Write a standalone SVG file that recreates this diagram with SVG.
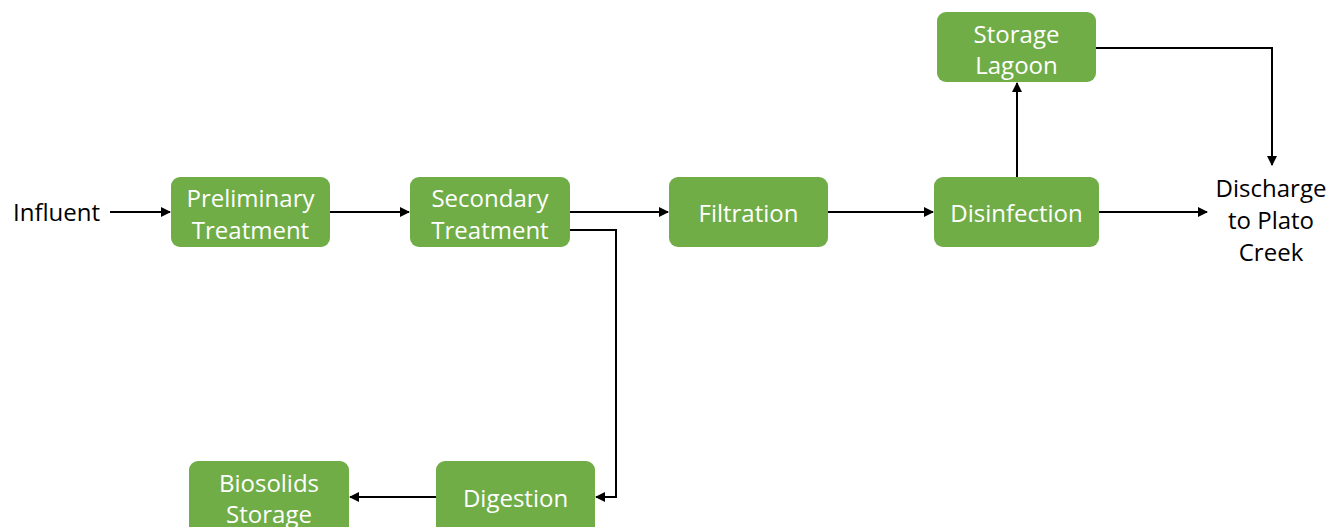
<svg xmlns="http://www.w3.org/2000/svg" width="1332" height="527" viewBox="0 0 1332 527">
<style>
.box{fill:#70AD47;}
.bt{font-family:"Open Sans","Noto Sans",sans-serif;font-size:24px;fill:#ffffff;text-anchor:middle;dominant-baseline:central;}
.lt{font-family:"Open Sans","Noto Sans",sans-serif;font-size:24px;fill:#000000;dominant-baseline:central;}
.c{fill:none;stroke:#000;stroke-width:2;marker-end:url(#ah);}
</style>
<defs>
<marker id="ah" viewBox="0 0 10 10" refX="9" refY="5" markerWidth="5" markerHeight="5" orient="auto" markerUnits="strokeWidth">
<path d="M0,0 L10,5 L0,10 z" fill="#000"/>
</marker>
</defs>
<rect width="1332" height="527" fill="#ffffff"/>
<g id="connectors">
<path class="c" d="M110,212 H170"/>
<path class="c" d="M330,212 H409"/>
<path class="c" d="M570,212 H668"/>
<path class="c" d="M570,230 H616 V497 H596"/>
<path class="c" d="M828,212 H933"/>
<path class="c" d="M1099,212 H1207"/>
<path class="c" d="M1017,177 V83"/>
<path class="c" d="M1096,48 H1272 V165"/>
<path class="c" d="M436,497 H350"/>
</g>
<g id="influent"><text class="lt" x="13" y="211">Influent</text></g>
<g id="preliminary">
<rect class="box" x="171" y="177" width="159" height="70" rx="9"/>
<text class="bt" x="250.5" y="197">Preliminary</text>
<text class="bt" x="250.5" y="229">Treatment</text>
</g>
<g id="secondary">
<rect class="box" x="410" y="177" width="160" height="70" rx="9"/>
<text class="bt" x="490" y="197">Secondary</text>
<text class="bt" x="490" y="229">Treatment</text>
</g>
<g id="filtration">
<rect class="box" x="669" y="177" width="159" height="70" rx="9"/>
<text class="bt" x="748.5" y="212">Filtration</text>
</g>
<g id="disinfection">
<rect class="box" x="934" y="177" width="165" height="70" rx="9"/>
<text class="bt" x="1016.5" y="212">Disinfection</text>
</g>
<g id="lagoon">
<rect class="box" x="937" y="12" width="159" height="70" rx="9"/>
<text class="bt" x="1016.5" y="33">Storage</text>
<text class="bt" x="1016.5" y="64">Lagoon</text>
</g>
<g id="digestion">
<rect class="box" x="436" y="461" width="159" height="75" rx="9"/>
<text class="bt" x="515.5" y="497">Digestion</text>
</g>
<g id="biosolids">
<rect class="box" x="189" y="461" width="160" height="75" rx="9"/>
<text class="bt" x="269" y="482">Biosolids</text>
<text class="bt" x="269" y="513">Storage</text>
</g>
<g id="discharge">
<text class="lt" x="1271" y="187" text-anchor="middle">Discharge</text>
<text class="lt" x="1271" y="219" text-anchor="middle">to Plato</text>
<text class="lt" x="1271" y="251" text-anchor="middle">Creek</text>
</g>
</svg>
